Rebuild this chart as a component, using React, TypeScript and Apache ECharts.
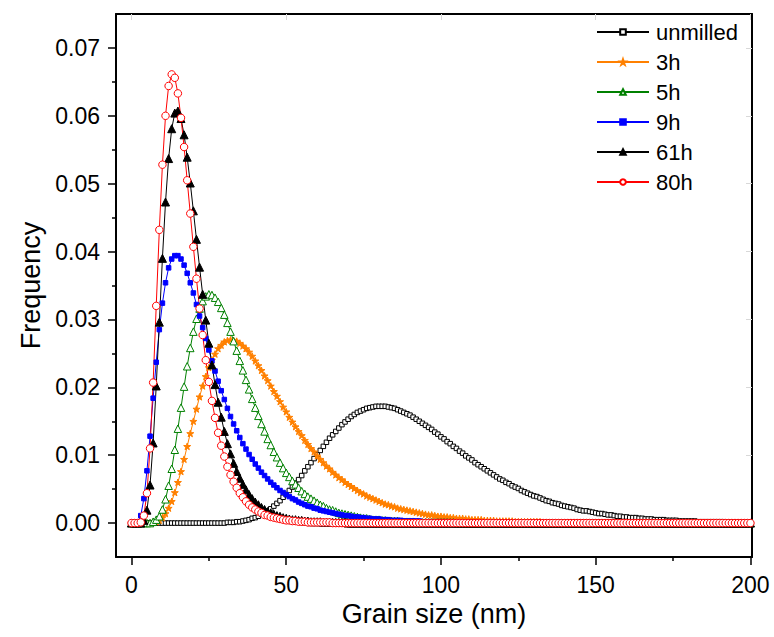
import React, { useEffect, useRef } from 'react';
import * as echarts from 'echarts';

// Grain size grid (nm): first point and step
const GRAIN_START = 0;
const GRAIN_STEP = 1;
// Frequency values below are stored in units of 1e-4
const FREQ_UNIT = 1e-4;

const unmilled = [
  0, 0, 0, 0, 0, 0, 0, 0, 0, 0,
  0, 0, 0, 0, 0, 0, 0, 0, 0, 0,
  0, 0, 0, 0, 0, 0, 0, 0, 0, 0,
  0, 1, 1, 1, 2, 2, 3, 4, 5, 7,
  8, 10, 13, 15, 18, 21, 25, 29, 33, 38,
  42, 48, 53, 59, 64, 70, 77, 83, 89, 95,
  101, 107, 113, 119, 125, 130, 135, 140, 145, 149,
  153, 157, 160, 163, 165, 167, 169, 170, 171, 172,
  172, 172, 172, 171, 170, 169, 167, 165, 163, 161,
  159, 156, 153, 150, 147, 144, 141, 138, 134, 131,
  127, 124, 120, 117, 113, 110, 106, 103, 99, 96,
  93, 89, 86, 83, 80, 77, 74, 71, 68, 65,
  63, 60, 58, 55, 53, 51, 48, 46, 44, 42,
  40, 39, 37, 35, 33, 32, 30, 29, 28, 26,
  25, 24, 23, 22, 20, 19, 18, 18, 17, 16,
  15, 14, 14, 13, 12, 12, 11, 10, 10, 9,
  9, 8, 8, 8, 7, 7, 6, 6, 6, 5,
  5, 5, 5, 4, 4, 4, 4, 3, 3, 3,
  3, 3, 3, 2, 2, 2, 2, 2, 2, 2,
  2, 2, 1, 1, 1, 1, 1, 1, 1, 1,
  1,
];

const milled3h = [
  0, 0, 0, 0, 0, 0, 0, 1, 2, 4,
  8, 14, 22, 32, 45, 60, 76, 94, 113, 132,
  150, 168, 186, 202, 216, 229, 240, 249, 257, 262,
  267, 269, 270, 269, 268, 265, 261, 257, 252, 246,
  239, 232, 225, 217, 210, 202, 194, 187, 179, 171,
  164, 156, 149, 142, 135, 129, 122, 116, 110, 105,
  99, 94, 89, 84, 80, 75, 71, 67, 64, 60,
  57, 54, 51, 48, 45, 43, 40, 38, 36, 34,
  32, 30, 28, 27, 25, 24, 22, 21, 20, 19,
  18, 17, 16, 15, 14, 13, 12, 12, 11, 10,
  10, 9, 9, 8, 8, 7, 7, 7, 6, 6,
  5, 5, 5, 5, 4, 4, 4, 4, 3, 3,
  3, 3, 3, 3, 2, 2, 2, 2, 2, 2,
  2, 2, 2, 1, 1, 1, 1, 1, 1, 1,
  1, 1, 1, 1, 1, 1, 1, 1, 1, 1,
  1, 1, 1, 1, 0, 0, 0, 0, 0, 0,
  0, 0, 0, 0, 0, 0, 0, 0, 0, 0,
  0, 0, 0, 0, 0, 0, 0, 0, 0, 0,
  0, 0, 0, 0, 0, 0, 0, 0, 0, 0,
  0, 0, 0, 0, 0, 0, 0, 0, 0, 0,
  0,
];

const milled5h = [
  0, 0, 0, 0, 0, 0, 0, 2, 5, 10,
  20, 35, 55, 80, 108, 139, 170, 201, 231, 258,
  282, 301, 316, 327, 334, 337, 336, 332, 326, 317,
  307, 295, 282, 268, 254, 239, 225, 211, 197, 183,
  170, 158, 146, 135, 124, 115, 105, 97, 89, 81,
  74, 68, 62, 57, 52, 47, 43, 39, 36, 33,
  30, 27, 25, 22, 20, 19, 17, 15, 14, 13,
  12, 11, 10, 9, 8, 7, 7, 6, 5, 5,
  5, 4, 4, 3, 3, 3, 3, 2, 2, 2,
  2, 2, 1, 1, 1, 1, 1, 1, 1, 1,
  1, 1, 1, 1, 1, 0, 0, 0, 0, 0,
  0, 0, 0, 0, 0, 0, 0, 0, 0, 0,
  0, 0, 0, 0, 0, 0, 0, 0, 0, 0,
  0, 0, 0, 0, 0, 0, 0, 0, 0, 0,
  0, 0, 0, 0, 0, 0, 0, 0, 0, 0,
  0, 0, 0, 0, 0, 0, 0, 0, 0, 0,
  0, 0, 0, 0, 0, 0, 0, 0, 0, 0,
  0, 0, 0, 0, 0, 0, 0, 0, 0, 0,
  0, 0, 0, 0, 0, 0, 0, 0, 0, 0,
  0, 0, 0, 0, 0, 0, 0, 0, 0, 0,
  0,
];

const milled9h = [
  0, 0, 1, 11, 36, 77, 128, 184, 237, 285,
  324, 354, 376, 389, 394, 394, 389, 380, 368, 354,
  339, 322, 305, 288, 272, 255, 239, 224, 209, 195,
  182, 169, 157, 146, 136, 126, 117, 109, 101, 94,
  87, 81, 75, 70, 65, 60, 56, 52, 48, 45,
  42, 39, 36, 34, 31, 29, 27, 25, 24, 22,
  21, 19, 18, 17, 16, 15, 14, 13, 12, 11,
  11, 10, 9, 9, 8, 8, 7, 7, 6, 6,
  6, 5, 5, 5, 4, 4, 4, 4, 3, 3,
  3, 3, 3, 3, 2, 2, 2, 2, 2, 2,
  2, 2, 2, 1, 1, 1, 1, 1, 1, 1,
  1, 1, 1, 1, 1, 1, 1, 1, 1, 1,
  1, 1, 1, 0, 0, 0, 0, 0, 0, 0,
  0, 0, 0, 0, 0, 0, 0, 0, 0, 0,
  0, 0, 0, 0, 0, 0, 0, 0, 0, 0,
  0, 0, 0, 0, 0, 0, 0, 0, 0, 0,
  0, 0, 0, 0, 0, 0, 0, 0, 0, 0,
  0, 0, 0, 0, 0, 0, 0, 0, 0, 0,
  0, 0, 0, 0, 0, 0, 0, 0, 0, 0,
  0, 0, 0, 0, 0, 0, 0, 0, 0, 0,
  0,
];

const milled61h = [
  0, 0, 0, 0, 4, 19, 56, 118, 202, 296,
  390, 473, 537, 581, 604, 607, 596, 572, 539, 501,
  460, 418, 377, 337, 299, 265, 233, 204, 178, 156,
  135, 117, 102, 88, 76, 66, 57, 49, 42, 36,
  31, 27, 23, 20, 17, 15, 13, 11, 10, 8,
  7, 6, 5, 5, 4, 4, 3, 3, 2, 2,
  2, 2, 1, 1, 1, 1, 1, 1, 1, 1,
  0, 0, 0, 0, 0, 0, 0, 0, 0, 0,
  0, 0, 0, 0, 0, 0, 0, 0, 0, 0,
  0, 0, 0, 0, 0, 0, 0, 0, 0, 0,
  0, 0, 0, 0, 0, 0, 0, 0, 0, 0,
  0, 0, 0, 0, 0, 0, 0, 0, 0, 0,
  0, 0, 0, 0, 0, 0, 0, 0, 0, 0,
  0, 0, 0, 0, 0, 0, 0, 0, 0, 0,
  0, 0, 0, 0, 0, 0, 0, 0, 0, 0,
  0, 0, 0, 0, 0, 0, 0, 0, 0, 0,
  0, 0, 0, 0, 0, 0, 0, 0, 0, 0,
  0, 0, 0, 0, 0, 0, 0, 0, 0, 0,
  0, 0, 0, 0, 0, 0, 0, 0, 0, 0,
  0, 0, 0, 0, 0, 0, 0, 0, 0, 0,
  0,
];

const milled80h = [
  0, 0, 0, 1, 11, 44, 110, 207, 320, 432,
  528, 600, 644, 661, 656, 633, 597, 554, 505, 456,
  407, 360, 316, 277, 240, 208, 180, 155, 133, 114,
  98, 83, 71, 61, 52, 44, 38, 32, 27, 23,
  20, 17, 15, 12, 11, 9, 8, 7, 6, 5,
  4, 4, 3, 3, 2, 2, 2, 1, 1, 1,
  1, 1, 1, 1, 1, 0, 0, 0, 0, 0,
  0, 0, 0, 0, 0, 0, 0, 0, 0, 0,
  0, 0, 0, 0, 0, 0, 0, 0, 0, 0,
  0, 0, 0, 0, 0, 0, 0, 0, 0, 0,
  0, 0, 0, 0, 0, 0, 0, 0, 0, 0,
  0, 0, 0, 0, 0, 0, 0, 0, 0, 0,
  0, 0, 0, 0, 0, 0, 0, 0, 0, 0,
  0, 0, 0, 0, 0, 0, 0, 0, 0, 0,
  0, 0, 0, 0, 0, 0, 0, 0, 0, 0,
  0, 0, 0, 0, 0, 0, 0, 0, 0, 0,
  0, 0, 0, 0, 0, 0, 0, 0, 0, 0,
  0, 0, 0, 0, 0, 0, 0, 0, 0, 0,
  0, 0, 0, 0, 0, 0, 0, 0, 0, 0,
  0, 0, 0, 0, 0, 0, 0, 0, 0, 0,
  0,
];

const SERIES_NAMES = ['unmilled', '3h', '5h', '9h', '61h', '80h'];

const X_MAJOR = [0, 50, 100, 150, 200];
const X_MINOR = [25, 75, 125, 175];
const Y_MAJOR = [0, 0.01, 0.02, 0.03, 0.04, 0.05, 0.06, 0.07];
const Y_MINOR = [0.005, 0.015, 0.025, 0.035, 0.045, 0.055, 0.065];

const FONT = '"Liberation Sans", Arial, Helvetica, sans-serif';
const STAR = 'path://M50 0 L61.76 33.82 L97.55 34.55 L69.02 56.18 L79.39 90.45 L50 70 L20.61 90.45 L30.98 56.18 L2.45 34.55 L38.24 33.82 Z';

function toPairs(vals: number[]) {
  return vals.map((v, i) => [GRAIN_START + i * GRAIN_STEP, v * FREQ_UNIT]);
}

function makeSeries(name: string, vals: number[], color: string, symbol: string, size: number, filled: boolean) {
  return {
    name,
    type: 'line',
    data: toPairs(vals),
    symbol,
    symbolSize: size,
    symbolKeepAspect: true,
    showSymbol: true,
    showAllSymbol: true,
    lineStyle: { color, width: 1 },
    itemStyle: { color: filled ? color : '#ffffff', borderColor: color, borderWidth: 1 },
    emphasis: { disabled: true },
    xAxisIndex: 0,
    yAxisIndex: 0,
  };
}

export default function App() {
  const ref = useRef<HTMLDivElement>(null);

  useEffect(() => {
    const chart = echarts.init(ref.current!, null, { renderer: 'svg' });
    const X_MIN = -5;
    const X_MAX = 200.5;
    const Y_MIN = -0.005;
    const Y_MAX = 0.075;
    const black = '#000000';
    const faint = '#d8d8d8';

    const xBase = { type: 'value', min: X_MIN, max: X_MAX, splitLine: { show: false } };
    const yBase = { type: 'value', min: Y_MIN, max: Y_MAX, splitLine: { show: false } };

    const option = {
      animation: false,
      backgroundColor: '#ffffff',
      grid: { left: 116, right: 22, top: 14, bottom: 80, containLabel: false },
      legend: {
        orient: 'vertical',
        left: 591,
        top: 16,
        itemWidth: 52,
        itemHeight: 7,
        itemGap: 8,
        data: SERIES_NAMES,
        textStyle: { fontSize: 22, fontFamily: FONT, color: black, padding: [0, 0, 0, 2] },
        selectedMode: false,
      },
      xAxis: [
        {
          ...xBase,
          position: 'bottom',
          axisLine: { show: true, onZero: false, lineStyle: { color: black, width: 2 } },
          axisTick: { show: true, inside: false, length: 8, customValues: X_MAJOR, lineStyle: { color: black, width: 1.5 } },
          axisLabel: { show: true, customValues: X_MAJOR, margin: 16, fontSize: 23, fontFamily: FONT, color: black },
          name: 'Grain size (nm)',
          nameLocation: 'middle',
          nameGap: 42,
          nameTextStyle: { fontSize: 27, fontFamily: FONT, color: black },
        },
        {
          ...xBase,
          position: 'bottom',
          axisLine: { show: false, onZero: false },
          axisTick: { show: true, inside: false, length: 4, customValues: X_MINOR, lineStyle: { color: black, width: 1.5 } },
          axisLabel: { show: false },
        },
        {
          ...xBase,
          position: 'top',
          axisLine: { show: true, onZero: false, lineStyle: { color: black, width: 2 } },
          axisTick: { show: true, inside: true, length: 6, customValues: X_MAJOR, lineStyle: { color: faint, width: 1 } },
          axisLabel: { show: false },
        },
      ],
      yAxis: [
        {
          ...yBase,
          position: 'left',
          axisLine: { show: true, onZero: false, lineStyle: { color: black, width: 2 } },
          axisTick: { show: true, inside: false, length: 8, customValues: Y_MAJOR, lineStyle: { color: black, width: 1.5 } },
          axisLabel: {
            show: true,
            customValues: Y_MAJOR,
            margin: 16,
            fontSize: 23,
            fontFamily: FONT,
            color: black,
            formatter: (v: number) => v.toFixed(2),
          },
          name: 'Frequency',
          nameLocation: 'middle',
          nameGap: 72,
          nameTextStyle: { fontSize: 27, fontFamily: FONT, color: black },
        },
        {
          ...yBase,
          position: 'left',
          axisLine: { show: false, onZero: false },
          axisTick: { show: true, inside: false, length: 4, customValues: Y_MINOR, lineStyle: { color: black, width: 1.5 } },
          axisLabel: { show: false },
        },
        {
          ...yBase,
          position: 'right',
          axisLine: { show: true, onZero: false, lineStyle: { color: black, width: 2 } },
          axisTick: { show: true, inside: true, length: 6, customValues: Y_MAJOR, lineStyle: { color: faint, width: 1 } },
          axisLabel: { show: false },
        },
      ],
      series: [
        makeSeries(SERIES_NAMES[0], unmilled, '#000000', 'rect', 4.5, false),
        makeSeries(SERIES_NAMES[1], milled3h, '#FF8000', STAR, 7, true),
        makeSeries(SERIES_NAMES[2], milled5h, '#008000', 'triangle', 7.5, false),
        makeSeries(SERIES_NAMES[3], milled9h, '#0000FF', 'rect', 4.5, true),
        makeSeries(SERIES_NAMES[4], milled61h, '#000000', 'triangle', 8, true),
        makeSeries(SERIES_NAMES[5], milled80h, '#FF0000', 'circle', 7.5, false),
      ],
    };

    chart.setOption(option as any);
    return () => chart.dispose();
  }, []);

  return (
    <div
      ref={ref}
      style={{ position: 'absolute', left: 0, top: 0, width: 774, height: 637 }}
    />
  );
}
